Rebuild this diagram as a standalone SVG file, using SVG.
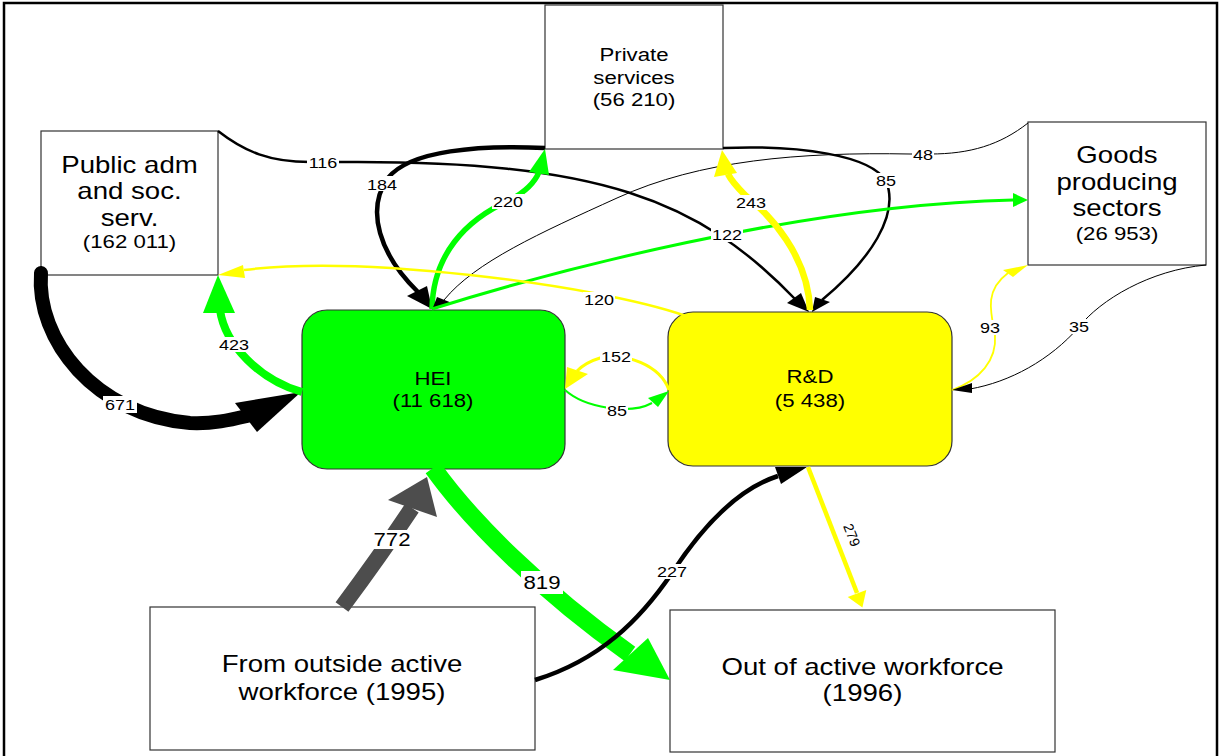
<svg xmlns="http://www.w3.org/2000/svg" width="1221" height="756" viewBox="0 0 1221 756">
<style>
.box{fill:#fff;stroke:#333;stroke-width:1.2}
.hei{fill:#00ff00;stroke:#333;stroke-width:1.2}
.rd{fill:#ffff00;stroke:#333;stroke-width:1.2}
text{font-family:"Liberation Sans",Arial,sans-serif;fill:#000;text-anchor:middle}
.n{font-size:18.5px}
.nb{font-size:23px}
.l{font-size:15px}
.lb{font-size:18.5px}
.c{fill:none}
.k{stroke:#000}
.g{stroke:#00ff00}
.y{stroke:#ffff00}
.d{stroke:#4d4d4d}
.ak{fill:#000}
.ag{fill:#00ff00}
.ay{fill:#ffff00}
.ad{fill:#4d4d4d}
.bg{fill:#fff}
</style>
<rect x="0" y="0" width="1221" height="756" fill="#fff"/>
<rect x="4" y="3" width="1213" height="780" fill="none" stroke="#000" stroke-width="2.5"/>

<g id="private-services">
<rect class="box" x="545" y="5" width="178" height="144"/>
<text class="n" transform="translate(634,61) scale(1.2,1)">Private</text>
<text class="n" transform="translate(634,84) scale(1.2,1)">services</text>
<text class="n" transform="translate(634,106) scale(1.2,1)">(56 210)</text>
</g>
<g id="public-adm">
<rect class="box" x="41" y="131" width="177" height="144"/>
<text class="nb" transform="translate(129.5,173) scale(1.2,1)">Public adm</text>
<text class="nb" transform="translate(129.5,199) scale(1.2,1)">and soc.</text>
<text class="nb" transform="translate(129.5,226) scale(1.2,1)">serv.</text>
<text class="n" transform="translate(129.5,248) scale(1.2,1)">(162 011)</text>
</g>
<g id="goods-producing">
<rect class="box" x="1028" y="122" width="178" height="143"/>
<text class="nb" transform="translate(1117,163) scale(1.2,1)">Goods</text>
<text class="nb" transform="translate(1117,190) scale(1.2,1)">producing</text>
<text class="nb" transform="translate(1117,216) scale(1.2,1)">sectors</text>
<text class="n" transform="translate(1117,240) scale(1.2,1)">(26 953)</text>
</g>
<g id="hei">
<rect class="hei" x="302" y="310" width="263" height="159" rx="25"/>
<text class="n" transform="translate(433,385) scale(1.2,1)">HEI</text>
<text class="n" transform="translate(433,407) scale(1.2,1)">(11 618)</text>
</g>
<g id="rd">
<rect class="rd" x="668" y="312" width="284" height="154" rx="25"/>
<text class="n" transform="translate(810,383) scale(1.2,1)">R&amp;D</text>
<text class="n" transform="translate(810,407) scale(1.2,1)">(5 438)</text>
</g>
<g id="from-outside">
<rect class="box" x="150" y="607" width="385" height="143"/>
<text class="nb" transform="translate(342,672) scale(1.2,1)">From outside active</text>
<text class="nb" transform="translate(342,700) scale(1.2,1)">workforce (1995)</text>
</g>
<g id="out-of-workforce">
<rect class="box" x="670" y="610" width="385" height="142"/>
<text class="nb" transform="translate(862.5,675) scale(1.2,1)">Out of active workforce</text>
<text class="nb" transform="translate(862.5,701) scale(1.2,1)">(1996)</text>
</g>

<g id="connectors">
<!-- 671 Public adm -> HEI -->
<path class="c k" stroke-width="14" stroke-linecap="round" d="M41,273 C36,340 95,415 190,423 C213,424 230,420 247,416"/>
<polygon class="ak" points="301,392 235,403 257,432"/>
<!-- 423 HEI -> Public adm -->
<path class="c g" stroke-width="8" d="M302,392 C260,380 225,345 220,310"/>
<polygon class="ag" points="218,275 203,313 235,313"/>
<!-- 184 Private -> HEI -->
<path class="c k" stroke-width="4.5" d="M545,148 C480,145 410,150 388,178 C365,210 380,255 418,292"/>
<polygon class="ak" points="432,309 407,296 427,286"/>
<!-- 116 Public adm -> R&D -->
<path class="c k" stroke-width="2.5" d="M218,131 C245,152 270,162 310,162 L340,162 C600,160 700,200 796,300"/>
<polygon class="ak" points="809,312 787,303 801,293"/>
<!-- 220 HEI -> Private -->
<path class="c g" stroke-width="5.5" d="M432,309 C433,255 465,220 510,200 C525,192 535,182 539,172"/>
<polygon class="ag" points="545,149 529,172 549,175"/>
<!-- 48 Goods -> HEI -->
<path class="c k" stroke-width="1" d="M1028,123 C1000,145 970,154 930,154 L910,154 C800,152 700,160 617,198 C540,233 475,262 444,300"/>
<polygon class="ak" points="432,310 437,297 452,303"/>
<!-- 85 Private -> R&D -->
<path class="c k" stroke-width="2.5" d="M723,148 C800,145 870,155 886,181 C900,215 870,260 822,300"/>
<polygon class="ak" points="812,312 815,297 830,302"/>
<!-- 122 HEI -> Goods -->
<path class="c g" stroke-width="3" d="M432,309 C550,272 800,205 1013,200"/>
<polygon class="ag" points="1028,200 1013,193 1013,207"/>
<!-- 120 R&D -> Public adm -->
<path class="c y" stroke-width="2.5" d="M686,316 C640,300 560,285 470,275 C380,265 300,263 244,270"/>
<polygon class="ay" points="218,275 243,265 245,278"/>
<!-- 243 R&D -> Private -->
<path class="c y" stroke-width="6.5" d="M810,310 C808,255 770,215 745,195 C738,188 732,182 728,174"/>
<polygon class="ay" points="722,150 714,177 737,173"/>
<!-- 85 HEI -> R&D -->
<path class="c g" stroke-width="2" d="M565,390 C585,408 630,415 652,403"/>
<polygon class="ag" points="669,391 648,398 658,407"/>
<!-- 152 R&D -> HEI -->
<path class="c y" stroke-width="3" d="M669,390 C660,365 625,352 600,358 C590,361 582,366 577,371"/>
<polygon class="ay" points="565,389 567,367 588,374"/>
<!-- 93 R&D -> Goods -->
<path class="c y" stroke-width="1.8" d="M952,390 C980,380 997,360 995,335 C990,310 985,290 1008,273"/>
<polygon class="ay" points="1028,265 1003,270 1013,277"/>
<!-- 35 Goods -> R&D -->
<path class="c k" stroke-width="1" d="M1206,265 C1150,270 1100,300 1079,327 C1050,360 1010,382 970,389"/>
<polygon class="ak" points="952,390 972,383 972,393"/>
<!-- 772 From outside -> HEI -->
<path class="c d" stroke-width="16" d="M342,607 C368,572 392,538 412,508"/>
<polygon class="ad" points="427,477 388,500 437,517"/>
<!-- 819 HEI -> Out -->
<path class="c g" stroke-width="18" d="M433,468 C470,520 540,590 630,654"/>
<polygon class="ag" points="670,680 613,670 648,638"/>
<!-- 227 From outside -> R&D -->
<path class="c k" stroke-width="4.5" d="M535,680 C600,660 640,620 672,573 C700,530 735,490 778,476"/>
<polygon class="ak" points="807,467 775,467 781,484"/>
<!-- 279 R&D -> Out -->
<path class="c y" stroke-width="4.5" d="M808,467 L857,593"/>
<polygon class="ay" points="862.4,607.5 847.7,597.1 866.3,589.9"/>

<g id="labels">
<rect class="bg" x="307" y="154" width="32" height="15"/><text class="l" transform="translate(323,167.5) scale(1.2,1)">116</text>
<rect class="bg" x="366" y="176" width="32" height="15"/><text class="l" transform="translate(382,189.5) scale(1.2,1)">184</text>
<rect class="bg" x="492" y="194" width="32" height="15"/><text class="l" transform="translate(508,207) scale(1.2,1)">220</text>
<rect class="bg" x="735" y="195" width="32" height="15"/><text class="l" transform="translate(751,208) scale(1.2,1)">243</text>
<rect class="bg" x="711" y="227" width="32" height="15"/><text class="l" transform="translate(727,240) scale(1.2,1)">122</text>
<rect class="bg" x="583" y="292" width="32" height="15"/><text class="l" transform="translate(599,305) scale(1.2,1)">120</text>
<rect class="bg" x="912" y="147" width="22" height="15"/><text class="l" transform="translate(923,160) scale(1.2,1)">48</text>
<rect class="bg" x="875" y="173" width="22" height="15"/><text class="l" transform="translate(886,186) scale(1.2,1)">85</text>
<rect class="bg" x="979" y="320" width="22" height="15"/><text class="l" transform="translate(990,333) scale(1.2,1)">93</text>
<rect class="bg" x="1068" y="319" width="22" height="15"/><text class="l" transform="translate(1079,332) scale(1.2,1)">35</text>
<rect class="bg" x="600" y="349" width="32" height="15"/><text class="l" transform="translate(616,362) scale(1.2,1)">152</text>
<rect class="bg" x="606" y="403" width="22" height="15"/><text class="l" transform="translate(617,416) scale(1.2,1)">85</text>
<rect class="bg" x="218" y="337" width="32" height="15"/><text class="l" transform="translate(234,350) scale(1.2,1)">423</text>
<rect class="bg" x="103" y="396" width="34" height="17"/><text class="l" transform="translate(120,410) scale(1.2,1)">671</text>
<rect class="bg" x="372" y="530" width="40" height="19"/><text class="lb" transform="translate(392,545.5) scale(1.2,1)">772</text>
<rect class="bg" x="521" y="571" width="42" height="23"/><text class="lb" transform="translate(542,589) scale(1.2,1)">819</text>
<rect class="bg" x="656" y="564" width="32" height="15"/><text class="l" transform="translate(672,577) scale(1.2,1)">227</text>
<text style="font-size:14px" transform="translate(852,535) rotate(68.75) translate(0,5)">279</text>
</g>
</g>
</svg>
